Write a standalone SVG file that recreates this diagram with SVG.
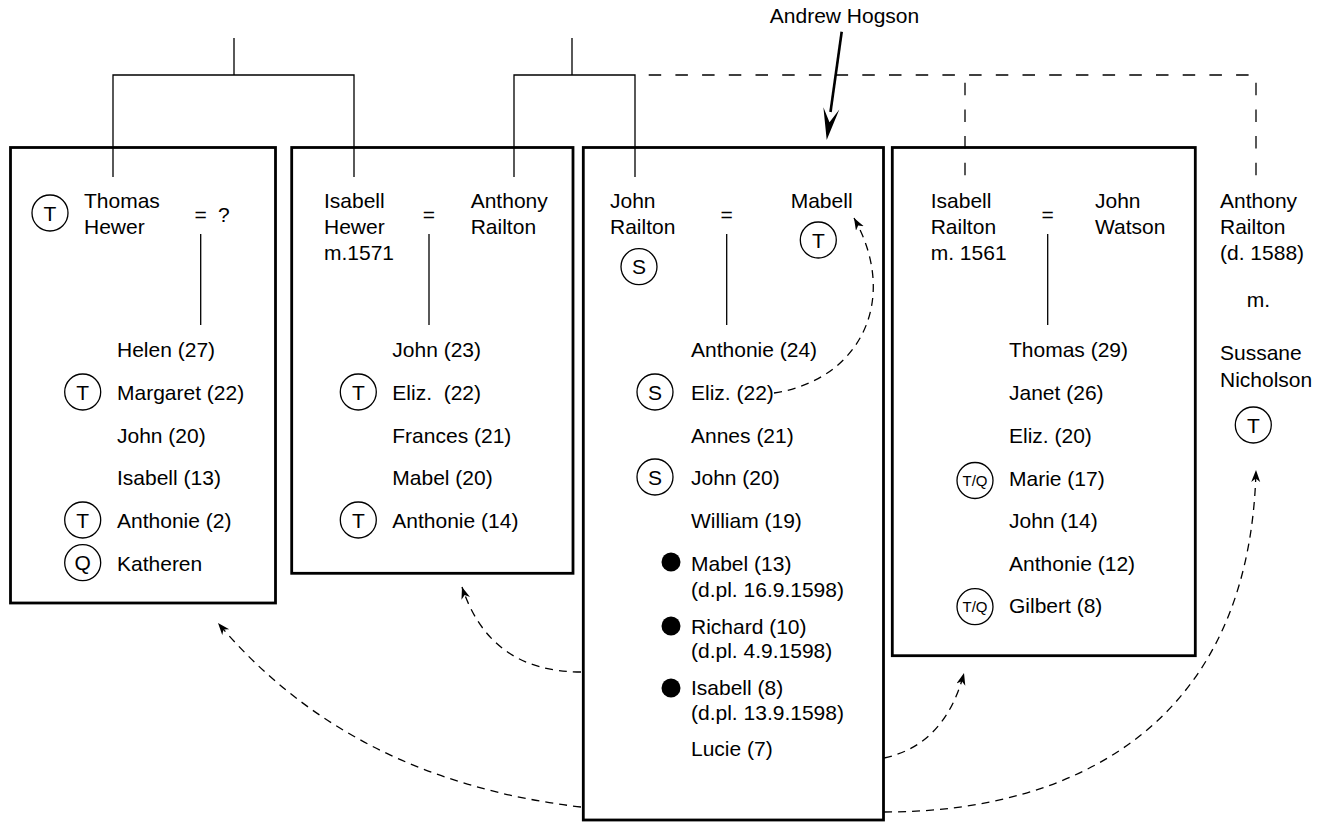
<svg xmlns="http://www.w3.org/2000/svg" width="1324" height="822" viewBox="0 0 1324 822">
<defs>
<style>
text{font-family:"Liberation Sans",Arial,Helvetica,sans-serif;font-size:21px;fill:#000}
.c{text-anchor:middle}
.tq{font-size:15px;text-anchor:middle}
.box{fill:none;stroke:#000;stroke-width:2.8}
.ln{fill:none;stroke:#000;stroke-width:1.3}
.dl{fill:none;stroke:#000;stroke-width:1.3;stroke-dasharray:12.5 14.2}
.da{fill:none;stroke:#000;stroke-width:1.3;stroke-dasharray:8 6;marker-end:url(#ah)}
.ring{fill:#fff;stroke:#000;stroke-width:1.3}
</style>
<marker id="ah" markerWidth="13" markerHeight="10" refX="12" refY="4.5" orient="auto" markerUnits="userSpaceOnUse">
<path d="M0,0 L12,4.5 L0,9 L3.5,4.5 z" fill="#000"/>
</marker>
</defs>
<rect width="1324" height="822" fill="#fff"/>

<g id="connectors">
<path class="ln" d="M234 38 V75 M113 177 V75 H354 V177"/>
<path class="ln" d="M572 38 V75 M514 177 V75 H635 V177"/>
<path class="dl" d="M636 75 H1256" stroke-dashoffset="14"/>
<path class="dl" d="M965 75 V177" stroke-dashoffset="19"/>
<path class="dl" d="M1256 75 V177" stroke-dashoffset="19"/>
<path class="ln" d="M200.7 234 V325 M429 234 V325 M726.7 234 V325 M1047.7 234 V325"/>
<path d="M841.7 31.7 L830.5 112" stroke="#000" stroke-width="2.6" fill="none"/>
<polygon points="826.7,140 823.4,107.2 829.5,122.2 839.3,109.4" fill="#000"/>
<path class="da" d="M774 393 C860 380 900 300 854 218"/>
<path class="da" d="M581 672 Q490 672 462 587"/>
<path class="da" d="M581 807 Q350 780 218 623"/>
<path class="da" d="M884 758 Q945 745 964 673"/>
<path class="da" d="M884 812 C1080 812 1250 720 1256 470"/>
</g>

<g id="label-hogson">
<text class="c" x="844.5" y="23">Andrew Hogson</text>
</g>

<g id="box-hewer">
<rect class="box" x="10.5" y="147.5" width="265" height="455.5"/>
<circle class="ring" cx="50" cy="213" r="18"/><text class="c" x="50" y="220.5">T</text>
<text x="84" y="208">Thomas</text>
<text x="84" y="234">Hewer</text>
<text class="c" x="200.7" y="221.5">=</text>
<text x="218" y="221.5">?</text>
<text x="117" y="357">Helen (27)</text>
<circle class="ring" cx="82.7" cy="392" r="18"/><text class="c" x="82.7" y="399.5">T</text>
<text x="117" y="400">Margaret (22)</text>
<text x="117" y="442.5">John (20)</text>
<text x="117" y="485">Isabell (13)</text>
<circle class="ring" cx="82.7" cy="520" r="18"/><text class="c" x="82.7" y="527.5">T</text>
<text x="117" y="528">Anthonie (2)</text>
<circle class="ring" cx="82.7" cy="562.7" r="18"/><text class="c" x="82.7" y="570.2">Q</text>
<text x="117" y="570.5">Katheren</text>
</g>

<g id="box-hewer-railton">
<rect class="box" x="291.7" y="147.5" width="281.3" height="425.8"/>
<text x="324" y="208">Isabell</text>
<text x="324" y="234">Hewer</text>
<text x="324" y="259.5">m.1571</text>
<text class="c" x="429" y="221.5">=</text>
<text x="470.7" y="208">Anthony</text>
<text x="470.7" y="234">Railton</text>
<text x="392.3" y="357">John (23)</text>
<circle class="ring" cx="358.3" cy="392" r="18"/><text class="c" x="358.3" y="399.5">T</text>
<text x="392.3" y="400" xml:space="preserve">Eliz.  (22)</text>
<text x="392.3" y="442.5">Frances (21)</text>
<text x="392.3" y="485">Mabel (20)</text>
<circle class="ring" cx="358.3" cy="520" r="18"/><text class="c" x="358.3" y="527.5">T</text>
<text x="392.3" y="528">Anthonie (14)</text>
</g>

<g id="box-railton">
<rect class="box" x="583.3" y="147.5" width="300.2" height="672.5"/>
<text x="610" y="208">John</text>
<text x="610" y="234">Railton</text>
<circle class="ring" cx="639" cy="266.7" r="18"/><text class="c" x="639" y="274.2">S</text>
<text class="c" x="726.7" y="221.5">=</text>
<text x="790.7" y="208">Mabell</text>
<circle class="ring" cx="818.3" cy="240" r="18"/><text class="c" x="818.3" y="247.5">T</text>
<text x="691" y="357">Anthonie (24)</text>
<circle class="ring" cx="655" cy="392" r="18"/><text class="c" x="655" y="399.5">S</text>
<text x="691" y="400">Eliz. (22)</text>
<text x="691" y="442.5">Annes (21)</text>
<circle class="ring" cx="655" cy="477" r="18"/><text class="c" x="655" y="484.5">S</text>
<text x="691" y="485">John (20)</text>
<text x="691" y="528">William (19)</text>
<circle cx="671" cy="562" r="9.5" fill="#000"/>
<text x="691" y="570.7">Mabel (13)</text>
<text x="691" y="596.7">(d.pl. 16.9.1598)</text>
<circle cx="671" cy="626" r="9.5" fill="#000"/>
<text x="691" y="634">Richard (10)</text>
<text x="691" y="658.3">(d.pl. 4.9.1598)</text>
<circle cx="671" cy="688" r="9.5" fill="#000"/>
<text x="691" y="694.5">Isabell (8)</text>
<text x="691" y="720">(d.pl. 13.9.1598)</text>
<text x="691" y="756">Lucie (7)</text>
</g>

<g id="box-watson">
<rect class="box" x="892.3" y="147.5" width="303" height="508.2"/>
<text x="930.7" y="208">Isabell</text>
<text x="930.7" y="234">Railton</text>
<text x="930.7" y="259.5">m. 1561</text>
<text class="c" x="1047.7" y="221.5">=</text>
<text x="1095" y="208">John</text>
<text x="1095" y="234">Watson</text>
<text x="1009" y="357">Thomas (29)</text>
<text x="1009" y="400">Janet (26)</text>
<text x="1009" y="442.5">Eliz. (20)</text>
<circle class="ring" cx="975" cy="480.5" r="18"/><text class="tq" x="975" y="485.9">T/Q</text>
<text x="1009" y="486">Marie (17)</text>
<text x="1009" y="528">John (14)</text>
<text x="1009" y="570.5">Anthonie (12)</text>
<circle class="ring" cx="975" cy="606.7" r="18"/><text class="tq" x="975" y="612.1">T/Q</text>
<text x="1009" y="613">Gilbert (8)</text>
</g>

<g id="anthony-railton">
<text x="1220" y="208">Anthony</text>
<text x="1220" y="234">Railton</text>
<text x="1220" y="259.5">(d. 1588)</text>
<text x="1246.7" y="306.7">m.</text>
<text x="1220" y="360">Sussane</text>
<text x="1220" y="386.7">Nicholson</text>
<circle class="ring" cx="1253.3" cy="425" r="18"/><text class="c" x="1253.3" y="432.5">T</text>
</g>
</svg>
